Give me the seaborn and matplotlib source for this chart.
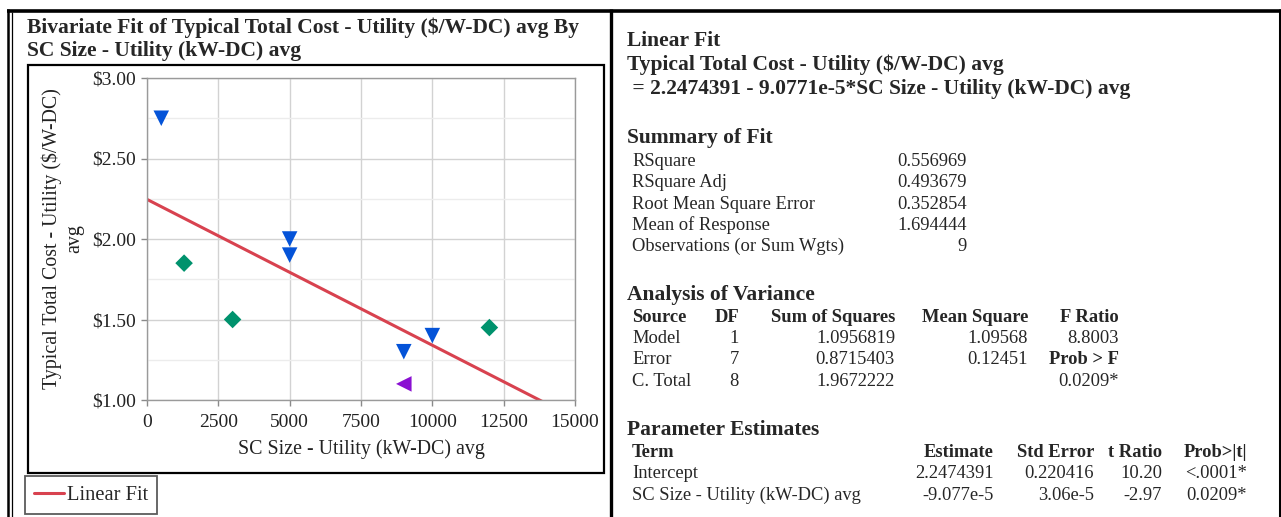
import matplotlib
matplotlib.use("Agg")
import matplotlib.pyplot as plt
import seaborn as sns
import pandas as pd
import numpy as np
from matplotlib.lines import Line2D
from matplotlib.patches import Rectangle
from matplotlib.ticker import MultipleLocator, FixedLocator

# ---------------- data ----------------
sc_size = [500, 5000, 5000, 9000, 10000, 1300, 3000, 12000, 9000]
total_cost = [2.75, 2.00, 1.90, 1.30, 1.40, 1.85, 1.50, 1.45, 1.10]
group = ["A", "A", "A", "A", "A", "B", "B", "B", "C"]
x_ticks = [0, 2500, 5000, 7500, 10000, 12500, 15000]
y_ticks = [1.00, 1.50, 2.00, 2.50, 3.00]

summary_labels = ["RSquare", "RSquare Adj", "Root Mean Square Error",
                  "Mean of Response", "Observations (or Sum Wgts)"]
summary_values = ["0.556969", "0.493679", "0.352854", "1.694444", "9"]

anova_header = ["Source", "DF", "Sum of Squares", "Mean Square", "F Ratio"]
anova_source = ["Model", "Error", "C. Total"]
anova_df = ["1", "7", "8"]
anova_ss = ["1.0956819", "0.8715403", "1.9672222"]
anova_ms = ["1.09568", "0.12451", ""]
anova_f = ["8.8003", "Prob > F", "0.0209*"]

pe_header = ["Term", "Estimate", "Std Error", "t Ratio", "Prob>|t|"]
pe_term = ["Intercept", "SC Size - Utility (kW-DC) avg"]
pe_est = ["2.2474391", "-9.077e-5"]
pe_se = ["0.220416", "3.06e-5"]
pe_t = ["10.20", "-2.97"]
pe_p = ["<.0001*", "0.0209*"]

df = pd.DataFrame({"x": sc_size, "y": total_cost, "g": group})

# ---------------- style ----------------
sns.set_theme(style="white")
plt.rcParams["font.family"] = ["Liberation Serif", "DejaVu Serif"]

W, H = 1281, 517
fig = plt.figure(figsize=(W / 100, H / 100), dpi=100)

def fx(px):
    return px / W

def fy(py):
    return 1 - py / H

ax = fig.add_axes([fx(147), fy(400), fx(575) - fx(147), fy(78) - fy(400)])
ax.set_xlim(0, 15000)
ax.set_ylim(1.0, 3.0)

# grid
ax.xaxis.set_major_locator(FixedLocator(x_ticks))
ax.yaxis.set_major_locator(FixedLocator(y_ticks))
ax.yaxis.set_minor_locator(MultipleLocator(0.25))
ax.grid(True, which="major", color="#d2d2d2", lw=1.0)
ax.grid(True, which="minor", axis="y", color="#ececec", lw=1.0)
ax.set_axisbelow(True)

# regression line
sns.regplot(data=df, x="x", y="y", scatter=False, ci=None, truncate=False,
            ax=ax, line_kws=dict(color="#d8424f", lw=2.2))

palette = {"A": "#0453d8", "B": "#00926d", "C": "#8a10d2"}
markers = {"A": "v", "B": "D", "C": "<"}
sizes = {"A": 125, "B": 80, "C": 125}
for g in ["A", "B", "C"]:
    sub = df[df["g"] == g]
    sns.scatterplot(data=sub, x="x", y="y", marker=markers[g], color=palette[g],
                    s=sizes[g], edgecolor="none", linewidth=0, ax=ax,
                    legend=False, zorder=3)

ax.set_xlim(0, 15000)
ax.set_ylim(1.0, 3.0)

ax.set_xticklabels([str(v) for v in x_ticks])
ax.set_yticklabels([r"\$%.2f" % v for v in y_ticks])
ax.tick_params(axis="both", which="major", labelsize=14, length=4,
               width=1, color="#8a8a8a", direction="out",
               bottom=True, left=True, labelcolor="#222222")
ax.tick_params(axis="x", which="major", pad=6)
ax.tick_params(axis="y", which="major", pad=4)
ax.tick_params(axis="y", which="minor", length=0)
for s in ax.spines.values():
    s.set_color("#9a9a9a")
    s.set_linewidth(1.0)

ax.set_xlabel("SC Size - Utility (kW-DC) avg", fontsize=14.3, color="#222222",
              labelpad=6)
ax.set_ylabel("Typical Total Cost - Utility (\\$/W-DC)\navg", fontsize=14.3,
              color="#222222", multialignment="center")
ax.yaxis.set_label_coords((84 - 147) / 428, 0.5)

# legend
handle = Line2D([0], [0], color="#d8424f", lw=2.2)
leg = fig.legend([handle], ["Linear Fit"], loc="lower left",
                 bbox_to_anchor=(fx(25), fy(514)), fontsize=14.8,
                 frameon=True, fancybox=False, handlelength=1.45,
                 handletextpad=0.12, borderpad=0.45, borderaxespad=0)
leg.get_frame().set_edgecolor("#333333")
leg.get_frame().set_linewidth(1.3)

# ---------------- frames ----------------
def vline(x, y0, y1, lw, c="black"):
    fig.add_artist(Line2D([fx(x), fx(x)], [fy(y0), fy(y1)], lw=lw, color=c,
                          transform=fig.transFigure, solid_capstyle="butt"))

def hline(y, x0, x1, lw, c="black"):
    fig.add_artist(Line2D([fx(x0), fx(x1)], [fy(y), fy(y)], lw=lw, color=c,
                          transform=fig.transFigure, solid_capstyle="butt"))

hline(10.5, 7, 1281, 2.6)
vline(8.2, 9, 517, 1.8)
vline(11.5, 12, 517, 0.9)
vline(610.5, 9, 517, 2.4)
vline(1279.5, 9, 517, 2.2)
fig.add_artist(Rectangle((fx(28), fy(473)), fx(604) - fx(28), fy(65) - fy(473),
                         fill=False, lw=1.6, edgecolor="black",
                         transform=fig.transFigure))

# ---------------- titles / text ----------------
HB = 15.5  # header bold size
TS = 13.3  # table size

fig.text(fx(27), fy(28), "Bivariate Fit of Typical Total Cost - Utility (\\$/W-DC) avg By",
         fontsize=HB, fontweight="bold", va="center", ha="left")
fig.text(fx(27), fy(51), "SC Size - Utility (kW-DC) avg",
         fontsize=HB, fontweight="bold", va="center", ha="left")

fig.text(fx(627), fy(41), "Linear Fit", fontsize=HB, fontweight="bold", va="center")
fig.text(fx(627), fy(65), "Typical Total Cost - Utility (\\$/W-DC) avg",
         fontsize=HB, fontweight="bold", va="center")
fig.text(fx(627), fy(89), " = 2.2474391 - 9.0771e-5*SC Size - Utility (kW-DC) avg",
         fontsize=HB, fontweight="bold", va="center")

fig.text(fx(627), fy(138), "Summary of Fit", fontsize=HB, fontweight="bold", va="center")
for i, (lab, val) in enumerate(zip(summary_labels, summary_values)):
    yy = 161.5 + i * 21.3
    fig.text(fx(632), fy(yy), lab, fontsize=TS, va="center")
    fig.text(fx(967), fy(yy), val, fontsize=TS, va="center", ha="right")

fig.text(fx(627), fy(295), "Analysis of Variance", fontsize=HB, fontweight="bold", va="center")
anova_x = [632, 739, 895, 1028, 1119]
for j, h in enumerate(anova_header):
    fig.text(fx(anova_x[j]), fy(317.5), h, fontsize=TS, fontweight="bold",
             va="center", ha="left" if j == 0 else "right")
for i in range(3):
    yy = 338.5 + i * 21.5
    row = [anova_source[i], anova_df[i], anova_ss[i], anova_ms[i], anova_f[i]]
    for j, t in enumerate(row):
        bold = (t == "Prob > F")
        fig.text(fx(anova_x[j]), fy(yy), t, fontsize=TS,
                 fontweight="bold" if bold else "normal",
                 va="center", ha="left" if j == 0 else "right")

fig.text(fx(627), fy(430), "Parameter Estimates", fontsize=HB, fontweight="bold", va="center")
pe_x = [632, 994, 1094, 1162, 1247]
for j, h in enumerate(pe_header):
    fig.text(fx(pe_x[j]), fy(452.5), h, fontsize=TS, fontweight="bold",
             va="center", ha="left" if j == 0 else "right")
for i in range(2):
    yy = 473.5 + i * 22
    row = [pe_term[i], pe_est[i], pe_se[i], pe_t[i], pe_p[i]]
    for j, t in enumerate(row):
        fig.text(fx(pe_x[j]), fy(yy), t, fontsize=TS, va="center",
                 ha="left" if j == 0 else "right")

fig.savefig("out.png", dpi=100, facecolor="white")
